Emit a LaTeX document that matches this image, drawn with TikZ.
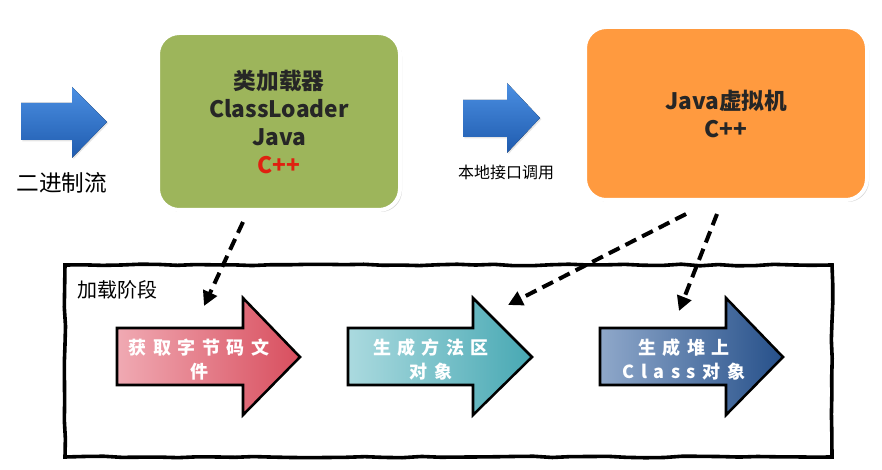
\documentclass[tikz,border=0pt]{standalone}
\usepackage{fontspec}
\setmainfont{Noto Sans CJK SC}
\usetikzlibrary{arrows.meta,shadows,decorations.pathmorphing,calc}
\definecolor{boxgreen}{HTML}{9DB55B}
\definecolor{boxorange}{HTML}{FF9A3F}
\definecolor{txtdark}{HTML}{262626}
\definecolor{cred}{HTML}{E02010}
\definecolor{blueA}{HTML}{4B8FE2}
\definecolor{blueB}{HTML}{1F5BAE}
\definecolor{redA}{HTML}{F0AAB3}
\definecolor{redB}{HTML}{D84E5E}
\definecolor{tealA}{HTML}{ABDADF}
\definecolor{tealB}{HTML}{47A8B3}
\definecolor{navyA}{HTML}{8FA8CA}
\definecolor{navyB}{HTML}{26508A}
\tikzset{
  bigbox/.style={draw=white, line width=3pt, rounded corners=16pt,
    align=center, text=txtdark, font=\fontsize{17}{21}\selectfont\bfseries,
    drop shadow={opacity=0.3, shadow xshift=1.5pt, shadow yshift=-1.5pt}},
  flowarrow/.style={line width=1.9pt, draw=black, line join=miter},
  topblue/.style={top color=blueA, bottom color=blueB,
    drop shadow={opacity=0.2, shadow xshift=1pt, shadow yshift=-1pt}},
  arrowtext/.style={text=white, align=center,
    font=\fontsize{13.5}{18}\selectfont\bfseries\addfontfeature{LetterSpace=36}},
  dashconn/.style={line width=3pt, dash pattern=on 9pt off 5pt,
    -{Triangle[length=11pt,width=11pt]}},
  frame/.style={line width=2.7pt, decorate,
    decoration={random steps, segment length=14pt, amplitude=0.6pt}},
}
\begin{document}
\begin{tikzpicture}[x=0.75pt,y=-0.75pt]
\pgfmathsetseed{7}
\useasboundingbox (0,0) rectangle (882,470);
\fill[white] (0,0) rectangle (882,470);

% top-left blue arrow
\fill[topblue] (21,103) -- (72,103) -- (72,87) -- (107,122) -- (72,158) -- (72,140) -- (21,140) -- cycle;
\node[font=\fontsize{17}{20}\selectfont, text=black] (bin) at (62,183) {二进制流};

% ClassLoader box
\node[bigbox, fill=boxgreen, minimum width=181.5pt, minimum height=132.75pt] (green) at (279,121.5)
  {类加载器\\ClassLoader\\Java\\\textcolor{cred}{C++}};

% second blue arrow
\fill[topblue] (463,100) -- (507,100) -- (507,83) -- (540,118) -- (507,153) -- (507,137) -- (463,137) -- cycle;
\node[font=\fontsize{12}{14}\selectfont, text=black] (jni) at (506,172) {本地接口调用};

% JVM box
\node[bigbox, fill=boxorange, minimum width=211.5pt, minimum height=129.75pt] (jvm) at (726,113.5)
  {Java虚拟机\\C++};

% loading-stage frame
\draw[frame] (65,265) -- (832,265) -- (832,457) -- (65,457) -- cycle;
\node[font=\fontsize{15}{18}\selectfont, text=black] (stage) at (117,290) {加载阶段};

% three stage arrows
\shadedraw[flowarrow, left color=redA, right color=redB]
  (117,328) -- (243,328) -- (243,298) -- (300,357) -- (243,415) -- (243,385) -- (117,385) -- cycle;
\node[arrowtext] (fetch) at (199,360) {获取字节码文\\件};

\shadedraw[flowarrow, left color=tealA, right color=tealB]
  (348,328) -- (473,328) -- (473,298) -- (532,357) -- (473,415) -- (473,385) -- (348,385) -- cycle;
\node[arrowtext] (method) at (431,360) {生成方法区\\对象};

\shadedraw[flowarrow, left color=navyA, right color=navyB]
  (600,328) -- (726,328) -- (726,298) -- (783,357) -- (726,415) -- (726,385) -- (600,385) -- cycle;
\node[arrowtext] (heap) at (684,360) {生成堆上\\Class对象};

% dashed connectors
\coordinate (s1) at (243,222);
\coordinate (e1) at (204,306);
\coordinate (s2) at (686,214);
\coordinate (e2) at (508,305);
\coordinate (s3) at (717,214);
\coordinate (e3) at (679,311);
\draw[dashconn] (s1) -- (e1);
\draw[dashconn] (s2) -- (e2);
\draw[dashconn] (s3) -- (e3);
\end{tikzpicture}
\end{document}
